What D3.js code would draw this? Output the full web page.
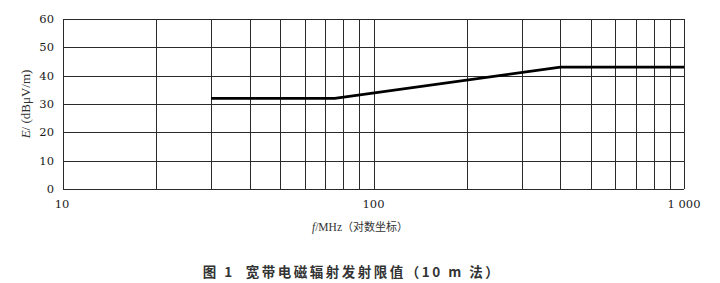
<!DOCTYPE html>
<html>
<head>
<meta charset="utf-8">
<script src="https://cdn.jsdelivr.net/npm/d3@7"></script>
<style>
body { margin:0; background:#fff; }
svg { display:block; }
</style>
</head>
<body>
<div id="chart"></div>
<script>
// limit line (MHz, dBμV/m)
var freq = [30, 75, 400, 1000];
var limit = [32, 32, 43, 43];

var xTickVals = [10, 100, 1000];
var xTickLabels = ["10", "100", "1 000"];
var yTickVals = [0, 10, 20, 30, 40, 50, 60];

var width = 720, height = 283;
var padding = {left:63, right:36, top:19, bottom:94};

var svg = d3.select("#chart")
	.append("svg")
	.attr("width", width)
	.attr("height", height);

var x = d3.scaleLog().domain([10, 1000]).range([padding.left, width - padding.right]);
var y = d3.scaleLinear().domain([0, 60]).range([height - padding.bottom, padding.top]);

var grid = svg.append("g").attr("class", "grid");

// vertical log grid (10,20..90,100,200..1000)
grid.selectAll("line.v")
	.data(x.ticks())
	.enter().append("line")
	.attr("class", "v")
	.attr("x1", function(d){ return Math.round(x(d)) + 0.5; })
	.attr("x2", function(d){ return Math.round(x(d)) + 0.5; })
	.attr("y1", y(60))
	.attr("y2", y(0))
	.attr("stroke", "#2a2a2a")
	.attr("stroke-width", 1);

grid.selectAll("line.h")
	.data(yTickVals)
	.enter().append("line")
	.attr("class", "h")
	.attr("x1", x(10))
	.attr("x2", x(1000))
	.attr("y1", function(d){ return Math.round(y(d)) + 0.5; })
	.attr("y2", function(d){ return Math.round(y(d)) + 0.5; })
	.attr("stroke", "#2a2a2a")
	.attr("stroke-width", 1);

// y tick labels
svg.append("g")
	.selectAll("text")
	.data(yTickVals)
	.enter().append("text")
	.text(function(d){ return d; })
	.attr("x", padding.left - 9)
	.attr("y", function(d){ return y(d) + 4; })
	.style("text-anchor", "end")
	.style("font-family", "'DejaVu Serif', serif")
	.style("font-size", "11.5px")
	.attr("fill", "#1a1a1a");

// x tick labels
svg.append("g")
	.selectAll("text")
	.data(xTickVals)
	.enter().append("text")
	.text(function(d, i){ return xTickLabels[i]; })
	.attr("x", function(d){ return x(d) - (d === 10 ? 1 : 0); })
	.attr("y", y(0) + 19)
	.style("text-anchor", "middle")
	.style("font-family", "'DejaVu Serif', serif")
	.style("font-size", "11.5px")
	.attr("fill", "#1a1a1a");

// limit line
var line = d3.line()
	.x(function(d, i){ return x(freq[i]); })
	.y(function(d){ return y(d); });

svg.append("path")
	.datum(limit)
	.attr("d", line)
	.attr("fill", "none")
	.attr("stroke", "#000")
	.attr("stroke-width", 2.6);

// axis titles
var yTitle = svg.append("text")
	.attr("transform", "translate(30," + ((y(0) + y(60)) / 2) + ") rotate(-90)")
	.style("text-anchor", "middle")
	.style("font-family", "'Liberation Serif', serif")
	.style("font-size", "13px")
	.attr("fill", "#333");
yTitle.append("tspan").style("font-style", "italic").text("E");
yTitle.append("tspan").text("/ (dBμV/m)");

var xTitle = svg.append("text")
	.attr("x", 360)
	.attr("y", 231)
	.style("text-anchor", "middle")
	.style("font-size", "11.5px")
	.attr("fill", "#333");
xTitle.append("tspan").style("font-style", "italic").style("font-family", "'Liberation Serif', serif").text("f");
xTitle.append("tspan").style("font-family", "'Liberation Serif', serif").text("/MHz");
xTitle.append("tspan").style("font-family", "'Noto Sans CJK SC', sans-serif").style("font-size", "11px").text("（对数坐标）");

// figure caption
svg.append("text")
	.attr("x", 352)
	.attr("y", 277)
	.style("text-anchor", "middle")
	.style("font-family", "'Noto Sans CJK SC', sans-serif")
	.style("font-weight", "bold")
	.style("font-size", "13.5px")
	.style("letter-spacing", "2.5px")
	.attr("fill", "#333")
	.attr("xml:space", "preserve")
	.text("图 1  宽带电磁辐射发射限值（10 m 法）");
</script>
</body>
</html>
